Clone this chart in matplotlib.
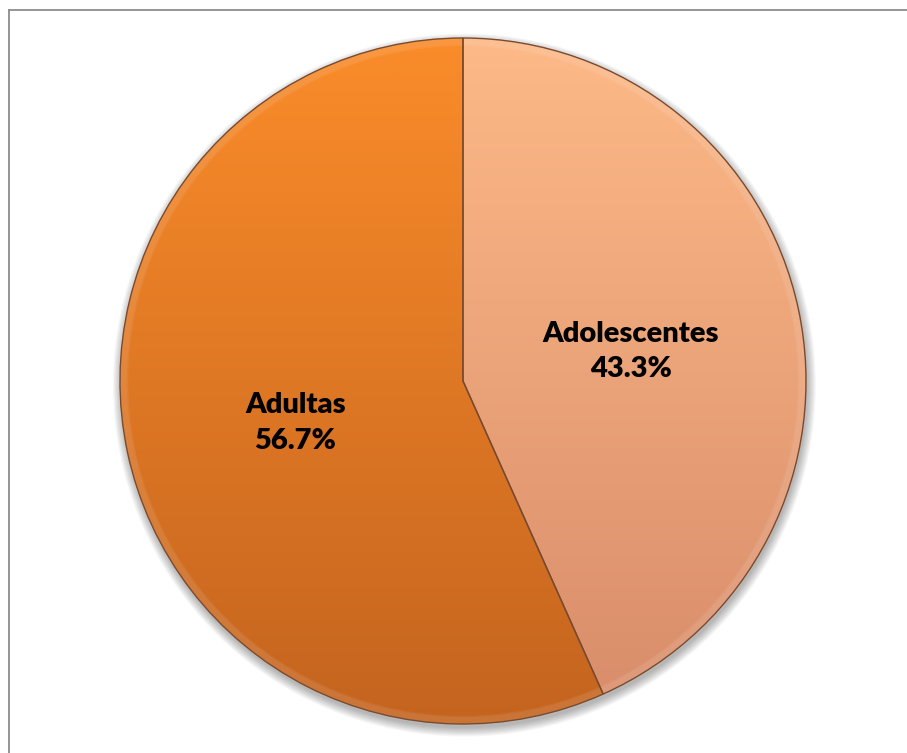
import numpy as np
import matplotlib.pyplot as plt
from matplotlib.colors import LinearSegmentedColormap
from matplotlib.patches import Circle
from matplotlib.lines import Line2D

categorias = ['Adolescentes', 'Adultas']
porcentajes = [43.3, 56.7]
# color arriba / abajo de cada sector (degradado vertical)
colores_arriba = ['#fdb987', '#fa8c2a']
colores_abajo = ['#d88c6a', '#c4641f']

W, H = 907, 753
cx, cy, R = 463, 372, 343  # centro y radio en pixeles (y desde abajo)

fig = plt.figure(figsize=(W / 100, H / 100), dpi=100)
ax = fig.add_axes([0, 0, 1, 1])

# sombra suave bajo el circulo
for i in range(8):
    ax.add_patch(Circle((0.004, -0.012), 1.0 + i * 0.0035, color='black',
                        alpha=0.04, lw=0, zorder=0))

wedges, textos = ax.pie(porcentajes, startangle=90, counterclock=False,
                        radius=1, center=(0, 0),
                        wedgeprops=dict(edgecolor='#7a4a2e', linewidth=1.0))
ax.set_xlim(-cx / R, (W - cx) / R)
ax.set_ylim(-cy / R, (H - cy) / R)
ax.set_aspect('auto')
ax.axis('off')

grad = np.linspace(1, 0, 256).reshape(-1, 1)
for w, c0, c1 in zip(wedges, colores_arriba, colores_abajo):
    w.set_facecolor('none')
    w.set_zorder(3)
    cmap = LinearSegmentedColormap.from_list('g', [c1, c0])
    im = ax.imshow(grad, cmap=cmap, extent=(-1, 1, -1, 1), aspect='auto',
                   origin='upper', zorder=2, interpolation='bicubic')
    im.set_clip_path(w)

# brillo del borde
for i in range(6):
    ax.add_patch(Circle((0, 0), 1 - i * 0.004, fill=False,
                        edgecolor='white', alpha=0.06, lw=2, zorder=2.5))

# etiquetas centradas a media distancia del radio
acum = 0
for cat, p in zip(categorias, porcentajes):
    ang = np.deg2rad(90 - (acum + p / 2) * 3.6)
    acum += p
    x, y = 0.5 * np.cos(ang), 0.5 * np.sin(ang)
    ax.text(x, y - 0.018, f'{cat}\n{p:.1f}%', ha='center', va='center',
            fontsize=21, fontweight='heavy', family='Lato',
            linespacing=1.45, zorder=5)

# marco (solo borde superior e izquierdo)
fig.add_artist(Line2D([8.5 / W, 1.01], [1 - 9.5 / H, 1 - 9.5 / H],
                      transform=fig.transFigure, color='#8c8c8c', lw=1.3))
fig.add_artist(Line2D([8.5 / W, 8.5 / W], [-0.01, 1 - 9.5 / H],
                      transform=fig.transFigure, color='#8c8c8c', lw=1.3))

fig.savefig('out.png', dpi=100)
